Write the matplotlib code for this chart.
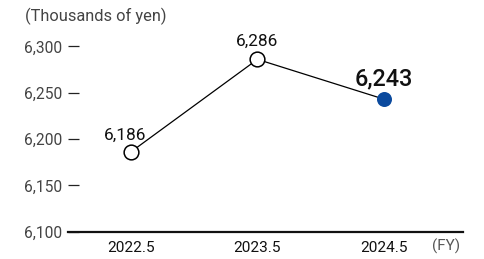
import matplotlib
matplotlib.use("Agg")
import matplotlib.pyplot as plt

categories = ["2022.5", "2023.5", "2024.5"]
values = [6186, 6286, 6243]
value_labels = ["6,186", "6,286", "6,243"]
yticks = [6100, 6150, 6200, 6250, 6300]
ytick_labels = ["6,100", "6,150", "6,200", "6,250", "6,300"]

plt.rcParams['font.family'] = ['Roboto', 'DejaVu Sans']

W, H = 484, 259
fig = plt.figure(figsize=(W / 100, H / 100), dpi=100)
left, right = 68 / W, 462.7 / W
bottom, top = 1 - 231.7 / H, 1 - 46.4 / H
ax = fig.add_axes([left, bottom, right - left, top - bottom])

x = list(range(len(categories)))
ax.plot(x, values, color="black", lw=0.9, zorder=2, clip_on=False)
ax.plot(x[:2], values[:2], 'o', ms=10.6, mfc="white", mec="black", mew=1.1, zorder=3, clip_on=False)
ax.plot(x[2:], values[2:], 'o', ms=10.8, mfc="#0B4A9E", mec="#0B4A9E", mew=0, zorder=3, clip_on=False)

ax.set_xlim(-0.495, 2.62)
ax.set_ylim(6100, 6300)

offsets = [(-4.0, 8.7), (0, 9.5), (0, 9.8)]
for i, (v, lab) in enumerate(zip(values, value_labels)):
    big = i == len(values) - 1
    ax.annotate(lab, (x[i], v), xytext=offsets[i], textcoords="offset points",
                ha="center", va="baseline", fontsize=16.8 if big else 12.4,
                fontweight="medium" if big else "normal", color="#111111",
                annotation_clip=False)

for s in ["top", "right", "left"]:
    ax.spines[s].set_visible(False)
ax.spines["bottom"].set_linewidth(1.6)
ax.spines["bottom"].set_color("#111111")

ax.set_yticks(yticks)
ax.set_yticklabels(ytick_labels, fontsize=11.2, color="#444444")
ax.tick_params(axis="y", direction="in", length=8.0, width=0.9, color="#222222", pad=4.3)
ax.set_xticks(x)
ax.set_xticklabels(categories, fontsize=11.1, color="#111111")
ax.tick_params(axis="x", length=0, pad=6.5)

fig.text(25 / W, 1 - 16.5 / H, "(Thousands of yen)", fontsize=11.8, color="#444444", va="center", ha="left")
fig.text(446.5 / W, 1 - 246.5 / H, "(FY)", fontsize=11, color="#555555", va="center", ha="center")

fig.savefig("out.png", dpi=100)
